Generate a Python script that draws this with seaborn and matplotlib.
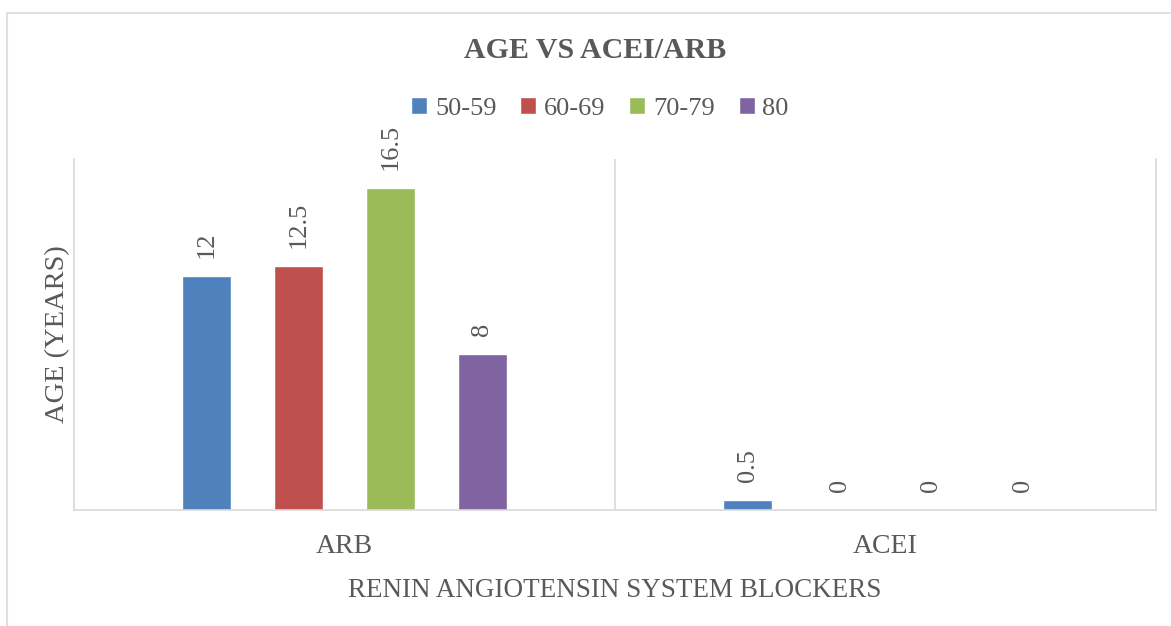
import matplotlib
matplotlib.use('Agg')
import matplotlib.pyplot as plt
from matplotlib.lines import Line2D
import seaborn as sns
import pandas as pd

categories = ['ARB', 'ACEI']
age_groups = ['50-59', '60-69', '70-79', '80']
arb_values = [12, 12.5, 16.5, 8]
acei_values = [0.5, 0, 0, 0]
colors = ['#4F81BD', '#C0504D', '#9BBB59', '#8064A2']

rows = []
for cat, vals in zip(categories, [arb_values, acei_values]):
    for g, v in zip(age_groups, vals):
        rows.append({'blocker': cat, 'age': g, 'value': v})
df = pd.DataFrame(rows)

sns.set_style('white')
plt.rcParams['font.family'] = ['Liberation Serif', 'DejaVu Serif']
txt = '#595959'
grid = '#d9d9d9'

fig = plt.figure(figsize=(11.71, 6.26), dpi=100)
ax = fig.add_axes([0.0632, 0.1853, 0.924, 0.5607])

sns.barplot(data=df, x='blocker', y='value', hue='age', order=categories,
            hue_order=age_groups, palette=colors, width=0.68, gap=0.476,
            saturation=1, ax=ax)

for c in ax.containers:
    ax.bar_label(c, padding=13, rotation=90, fontsize=19, color=txt)

ax.set_ylim(0, 18)
ax.set_xlim(-0.5, 1.5)
ax.set_yticks([])
ax.axvline(0.5, color=grid, lw=1.2)
for s in ['left', 'right', 'bottom']:
    ax.spines[s].set_color(grid)
    ax.spines[s].set_linewidth(1.2)
ax.spines['top'].set_visible(False)
ax.tick_params(axis='x', length=0, pad=17, labelsize=20, labelcolor=txt)
ax.set_xlabel('RENIN ANGIOTENSIN SYSTEM BLOCKERS', fontsize=19.5, color=txt, labelpad=14)
ax.set_ylabel('AGE (YEARS)', fontsize=20.5, color=txt, labelpad=3)

handles, labels = ax.get_legend_handles_labels()
ax.get_legend().remove()
fig.legend(handles, labels, loc='center', bbox_to_anchor=(0.5125, 0.827), ncol=4,
           frameon=False, fontsize=19, handlelength=0.6, handleheight=0.6,
           handletextpad=0.3, columnspacing=0.9, labelcolor=txt)

fig.text(0.508, 0.92, 'AGE VS ACEI/ARB', ha='center', va='center',
         fontsize=21.5, fontweight='bold', color=txt)

# outer chart border (only left and top fall inside the image)
fig.add_artist(Line2D([6.5 / 1171, 6.5 / 1171], [0, 1 - 13 / 626],
                      transform=fig.transFigure, color='#e0e0e0', lw=1.5))
fig.add_artist(Line2D([6.5 / 1171, 1], [1 - 13 / 626, 1 - 13 / 626],
                      transform=fig.transFigure, color='#e0e0e0', lw=1.5))

fig.savefig('out.png', dpi=100)
